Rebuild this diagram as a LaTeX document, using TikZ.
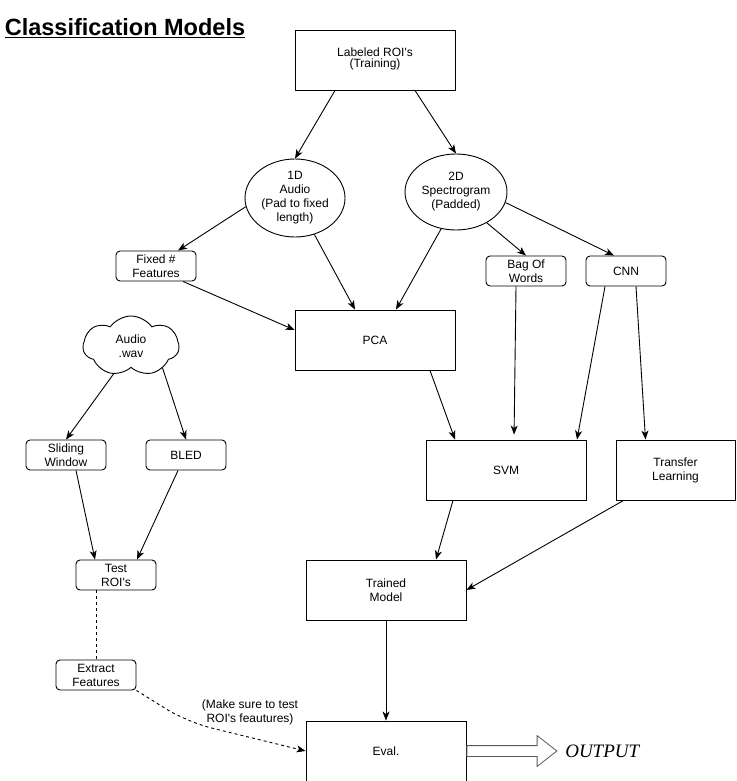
\documentclass[tikz,border=0pt]{standalone}
\usepackage{fontspec}
\setmainfont{Liberation Sans}
\newfontfamily\outputfont{Liberation Serif}
\usetikzlibrary{shapes.geometric, shapes.symbols, shapes.arrows, arrows.meta}

\begin{document}
\begin{tikzpicture}[x=1pt, y=-1pt, line width=0.9pt,
    >={Stealth[length=9pt,width=7pt,inset=2.5pt]},
    every node/.style={font=\fontsize{12}{14}\selectfont, align=center},
    bigbox/.style={draw, rectangle, minimum width=160pt, minimum height=60pt},
    smallbox/.style={draw, rectangle, rounded corners=4pt, minimum width=80pt, minimum height=30pt, inner sep=1pt},
    blob/.style={draw, ellipse, minimum width=100pt, minimum height=78pt, inner sep=0pt},
    puff/.style={draw, cloud, cloud puffs=7, cloud puff arc=110, cloud ignores aspect, minimum width=96pt, minimum height=60pt, inner sep=0pt},
    dashline/.style={dash pattern=on 3pt off 3pt},
    bigarrow/.style={single arrow, draw=black!65, line width=0.8pt, minimum height=90pt, inner sep=5pt,
                     single arrow head extend=10pt, single arrow tip angle=76}]
  \useasboundingbox (0,0) rectangle (736,781);

  % Title
  \node[font=\fontsize{23.5}{26}\bfseries] (title) at (125,28) {\underline{Classification Models}};

  % Training side
  \node[bigbox, font=\fontsize{12}{11}\selectfont] (labeled) at (375,60) {\\[-4pt]Labeled ROI\textquotesingle s\\(Training)};
  \node[blob] (audio1d) at (295,198) {1D\\Audio\\(Pad to fixed\\length)};
  \node[blob, minimum width=102pt, minimum height=76pt] (spec2d) at (456,192) {2D\\Spectrogram\\(Padded)};
  \node[smallbox] (fixed) at (156,266) {Fixed \#\\Features};
  \node[smallbox] (bow) at (526,271) {Bag Of\\Words};
  \node[smallbox] (cnn) at (626,271) {CNN};
  \node[bigbox] (pca) at (375,340) {PCA};
  \node[bigbox] (svm) at (506,470) {SVM};
  \node[bigbox, minimum width=119pt] (transfer) at (675.5,470) {Transfer\\Learning};
  \node[bigbox] (trained) at (386,590) {Trained\\Model};
  \node[bigbox] (eval) at (386,751) {Eval.};

  % Test side
  \node[puff] (wav) at (131,346) {Audio\\.wav};
  \node[smallbox] (sliding) at (66,455) {Sliding\\Window};
  \node[smallbox] (bled) at (186,455) {BLED};
  \node[smallbox] (test) at (116,575) {Test\\ROI\textquotesingle s};
  \node[smallbox] (extract) at (96,675) {Extract\\Features};
  \node (note) at (250,712) {(Make sure to test\\ROI\textquotesingle s feautures)};
  \coordinate (bend) at (187,722);   % where the dashed line turns

  % Output
  \node[bigarrow, anchor=tail] (outarrow) at (eval.east) {};
  \node[anchor=west, xshift=4pt, font=\fontsize{19}{20}\outputfont\itshape] (output) at (outarrow.tip) {OUTPUT};

  % Connections
  \path[->]
    ([xshift=-40pt]labeled.south) edge (audio1d.north)             % ROI's to 1D audio
    ([xshift=40pt]labeled.south) edge (spec2d.north)               % ROI's to 2D spectrogram
    (audio1d.190) edge ([xshift=22pt]fixed.north)                  % 1D to fixed features
    (audio1d.-62) edge ([xshift=-20pt]pca.north)                   % 1D to PCA
    (spec2d.248) edge ([xshift=21pt]pca.north)                     % 2D to PCA
    (spec2d.-45) edge (bow.north)                                  % 2D to bag of words
    (spec2d.-12) edge ([xshift=-12pt]cnn.north)                    % 2D to CNN
    ([xshift=27pt]fixed.south) edge ([yshift=10pt]pca.west)        % fixed features to PCA
    ([xshift=55pt]pca.south) edge ([xshift=-51pt]svm.north)        % PCA to SVM
    ([xshift=-10pt]bow.south) edge[shorten >=5pt] ([xshift=8pt]svm.north) % bag of words to SVM
    ([xshift=-21pt]cnn.south) edge ([xshift=71pt]svm.north)        % CNN to SVM
    ([xshift=10pt]cnn.south) edge ([xshift=-30pt]transfer.north)   % CNN to transfer learning
    ([xshift=-53pt]svm.south) edge ([xshift=50pt]trained.north)    % SVM to trained model
    ([xshift=-52pt]transfer.south) edge (trained.east)             % transfer learning to trained model
    (trained.south) edge (eval.north)                              % trained model to eval
    (wav.238) edge (sliding.north)                                 % wav to sliding window
    (wav.325) edge (bled.north)                                    % wav to BLED
    ([xshift=10pt]sliding.south) edge ([xshift=-21pt]test.north)   % sliding window to test ROI's
    ([xshift=-8pt]bled.south) edge ([xshift=21pt]test.north);      % BLED to test ROI's

  \draw[dashline] ([xshift=-20pt]test.south) -- (extract.north);   % test ROI's to extract features
  \draw[dashline, ->, rounded corners=25pt] (extract.south east) -- (bend) -- (eval.west); % features into eval
\end{tikzpicture}
\end{document}
